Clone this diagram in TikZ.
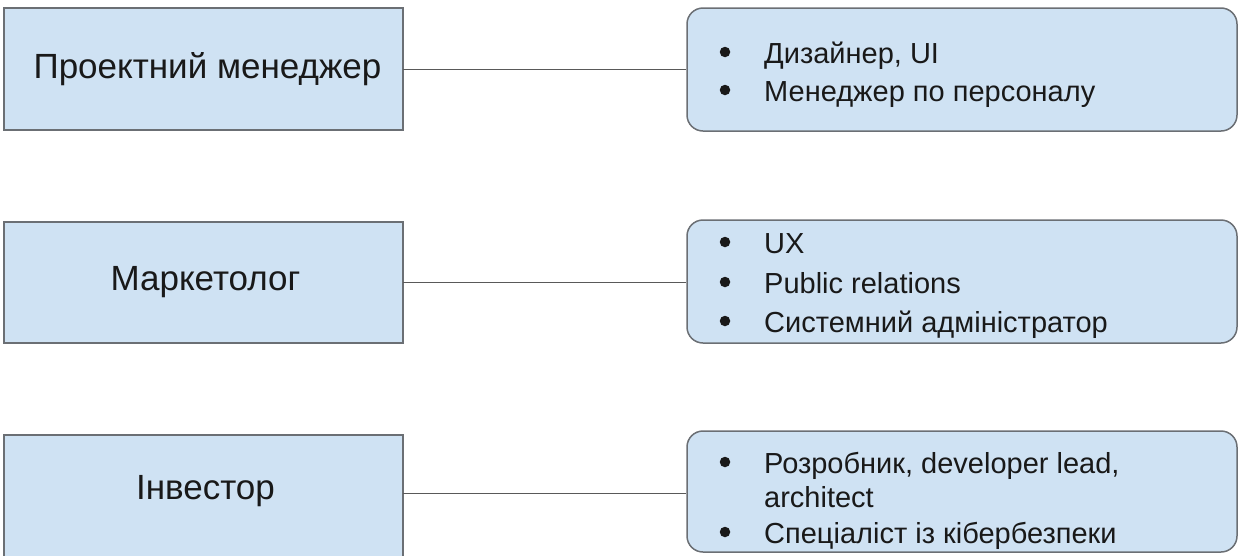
\documentclass[tikz,border=0pt]{standalone}
\usepackage{fontspec}
\setmainfont{Liberation Sans}
\definecolor{boxfill}{HTML}{CFE2F3}
\definecolor{boxline}{HTML}{6B6F74}
\definecolor{conn}{HTML}{595959}
\tikzset{
  rolebox/.style={draw=boxline, fill=boxfill, line width=1.5pt, inner sep=0pt},
  listbox/.style={draw=boxline, fill=boxfill, line width=1.5pt, rounded corners=16pt, inner sep=0pt},
  rolelabel/.style={font=\fontsize{35}{40}\selectfont, text=black!90, inner sep=0pt},
  itemtext/.style={font=\fontsize{29}{34}\selectfont, text=black!90, inner sep=0pt, anchor=base west},
  bullet/.style={circle, fill=black!90, inner sep=0pt, minimum size=10.5pt},
  connector/.style={draw=conn, line width=1pt}
}
\begin{document}
\begin{tikzpicture}[x=1pt,y=-1pt]
\useasboundingbox (0,0) rectangle (1239,555);
% left boxes
\path[rolebox] (4,8) rectangle (403,130);
\node[minimum width=399pt, minimum height=122pt, inner sep=0pt] (l1) at (203.5,69) {};
\path[rolebox] (4,222) rectangle (403,343);
\node[minimum width=399pt, minimum height=121pt, inner sep=0pt] (l2) at (203.5,282.5) {};
\path[rolebox] (4,435) rectangle (403,557);
\node[minimum width=399pt, minimum height=116pt, inner sep=0pt] (l3) at (203.5,493) {};
\node[rolelabel] (t1) at ([xshift=4pt]l1.center) {Проектний менеджер};
\node[rolelabel] (t2) at ([xshift=2pt]l2.center) {Маркетолог};
\node[rolelabel] (t3) at ([xshift=2pt,yshift=2pt]l3.center) {Інвестор};
% right boxes
\node[listbox, minimum width=550pt, minimum height=123pt] (r1) at (962,69.5) {};
\node[listbox, minimum width=550pt, minimum height=123pt] (r2) at (962,281.5) {};
\node[listbox, minimum width=550pt, minimum height=121pt] (r3) at (962,491.5) {};
% connectors
\draw[connector] (l1.east) -- (l1.east -| r1.west);
\draw[connector] (l2.east) -- (l2.east -| r2.west);
\draw[connector] (l3.east) -- (l3.east -| r3.west);
% list items box 1
\node[bullet] (b11) at (725,52) {};
\node[itemtext] (i11) at (764,63) {Дизайнер, UI};
\node[bullet] (b12) at (725,90) {};
\node[itemtext] (i12) at (764,101) {Менеджер по персоналу};
% box 2
\node[bullet] (b21) at (725,242) {};
\node[itemtext] (i21) at (764,253) {UX};
\node[bullet] (b22) at (725,282) {};
\node[itemtext] (i22) at (764,293) {Public relations};
\node[bullet] (b23) at (725,321) {};
\node[itemtext] (i23) at (764,332) {Системний адміністратор};
% box 3
\node[bullet] (b31) at (725,462) {};
\node[itemtext] (i31) at (764,473) {Розробник, developer lead,};
\node[itemtext] (i32) at (764,507) {architect};
\node[bullet] (b33) at (725,532) {};
\node[itemtext] (i33) at (764,543) {Спеціаліст із кібербезпеки};
\end{tikzpicture}
\end{document}
